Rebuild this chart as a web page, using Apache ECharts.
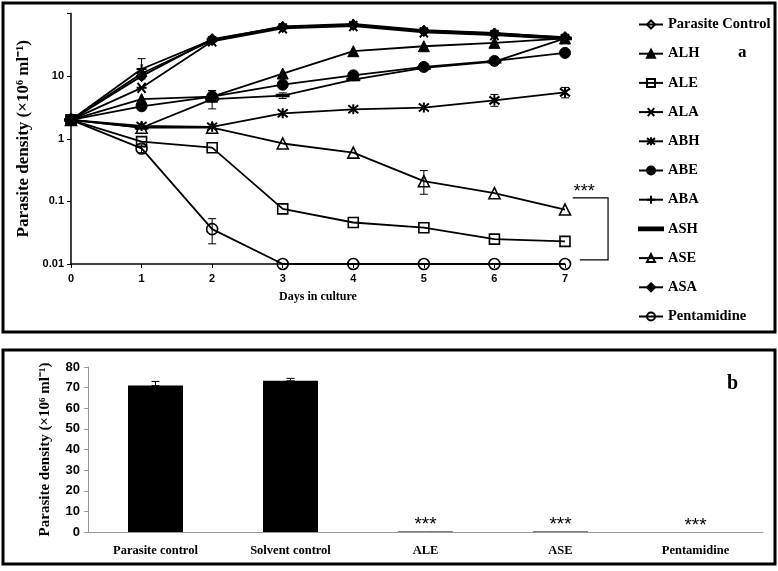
<!DOCTYPE html>
<html>
<head>
<meta charset="utf-8">
<script src="https://cdn.jsdelivr.net/npm/echarts@6/dist/echarts.min.js"></script>
<style>
  html, body { margin: 0; padding: 0; background: #fff; }
  #main { width: 778px; height: 571px; }
</style>
</head>
<body>
<div id="main"></div>
<script>
// ---- panel a : growth curves (log scale) ----
var days = [0, 1, 2, 3, 4, 5, 6, 7];
var parasiteControl = [2, 11, 37, 60, 65, 52, 46, 40];
var alh = [2, 4.3, 4.7, 11, 25, 30, 34, 40];
var ale = [2, 0.9, 0.72, 0.076, 0.046, 0.038, 0.025, 0.023];
var ala = [2, 6.5, 36, 58, 63, 50, 45, 39];
var abh = [2, 1.6, 1.55, 2.55, 2.95, 3.15, 4.1, 5.5];
var abe = [2, 3.3, 4.7, 7.3, 10.3, 14, 17.5, 23.5];
var aba = [2, 13, 38, 62, 68, 54, 49, 41];
var ash = [2, 1.5, 4.3, 4.9, 8.8, 13.5, 17, 40];
var ase = [2, 1.5, 1.5, 0.84, 0.6, 0.21, 0.135, 0.074];
var asa = [2, 10, 39, 61, 66, 53, 48, 42];
var pentamidine = [2, 0.7, 0.036, 0.01, 0.01, 0.01, 0.01, 0.01];
var yTicksA = [0.01, 0.1, 1, 10];

// error bars: [day, low, high]
var errA = [
  [1, 9, 19], [2, 3.0, 5.8], [3, 4.4, 5.4], [2, 4.2, 5.9],
  [1, 0.6, 0.8], [2, 0.021, 0.053],
  [5, 0.13, 0.31], [6, 3.3, 5.1], [7, 4.5, 6.6]
];

// ---- panel b : bar chart ----
var groupsB = ['Parasite control', 'Solvent control', 'ALE', 'ASE', 'Pentamidine'];
var densityB = [71, 73.3, 0.3, 0.3, 0];
var errB = [2, 1.2, 0, 0, 0];
var starsB = ['', '', '***', '***', '***'];

var serif = 'Liberation Serif';
var sans = 'Liberation Sans';

function pairs(arr) {
  return days.map(function (d, i) { return [d, arr[i]]; });
}

var crossPath = 'path://M5,0L5,10M0,5L10,5';
var starPath = 'path://M1,1L9,9M9,1L1,9M5,0L5,10';
var xPath = 'path://M1,1L9,9M9,1L1,9M0,5L10,5';

function lineSeries(name, arr, symbol, size, filled) {
  return {
    name: name,
    type: 'line',
    xAxisIndex: 0,
    yAxisIndex: 0,
    data: pairs(arr),
    symbol: symbol,
    symbolSize: size,
    showAllSymbol: true,
    animation: false,
    lineStyle: { color: '#000', width: 1.8 },
    itemStyle: {
      color: filled ? '#000' : 'rgba(255,255,255,0)',
      borderColor: '#000',
      borderWidth: filled ? 1 : 1.6
    }
  };
}

var names = ['Parasite Control', 'ALH', 'ALE', 'ALA', 'ABH', 'ABE', 'ABA', 'ASH', 'ASE', 'ASA', 'Pentamidine'];

var series = [
  lineSeries('Parasite Control', parasiteControl, 'diamond', 9, false),
  lineSeries('ALH', alh, 'triangle', 11, true),
  lineSeries('ALE', ale, 'rect', 10, false),
  lineSeries('ALA', ala, xPath, 10, true),
  lineSeries('ABH', abh, starPath, 10, true),
  lineSeries('ABE', abe, 'circle', 11, true),
  lineSeries('ABA', aba, crossPath, 10, true),
  lineSeries('ASH', ash, 'rect', [12, 3], true),
  lineSeries('ASE', ase, 'triangle', 11, false),
  lineSeries('ASA', asa, 'diamond', 11, true),
  lineSeries('Pentamidine', pentamidine, 'circle', 11, false)
];
series[3].itemStyle.borderWidth = 2;
series[4].itemStyle.borderWidth = 2;
series[6].itemStyle.borderWidth = 2;

var legendData = names.map(function (n) {
  return n === 'ASH' ? { name: n, icon: 'path://M0,0L24,0L24,2.6L0,2.6Z' } : n;
});

function errorBar(params, api) {
  var x = api.value(0);
  var lo = api.coord([x, api.value(1)]);
  var hi = api.coord([x, api.value(2)]);
  var w = 4;
  var st = { stroke: '#000', lineWidth: 1 };
  return {
    type: 'group',
    children: [
      { type: 'line', shape: { x1: lo[0], y1: lo[1], x2: hi[0], y2: hi[1] }, style: st },
      { type: 'line', shape: { x1: lo[0] - w, y1: lo[1], x2: lo[0] + w, y2: lo[1] }, style: st },
      { type: 'line', shape: { x1: hi[0] - w, y1: hi[1], x2: hi[0] + w, y2: hi[1] }, style: st }
    ]
  };
}

series.push({
  type: 'custom',
  xAxisIndex: 0,
  yAxisIndex: 0,
  data: errA,
  renderItem: errorBar,
  z: 1,
  animation: false
});

series.push({
  type: 'bar',
  xAxisIndex: 1,
  yAxisIndex: 1,
  data: densityB,
  barWidth: 55,
  itemStyle: { color: '#000' },
  label: {
    show: true,
    position: 'top',
    distance: -3,
    formatter: function (p) { return starsB[p.dataIndex]; },
    fontFamily: sans,
    fontSize: 19,
    color: '#000'
  },
  animation: false
});

series.push({
  type: 'custom',
  xAxisIndex: 1,
  yAxisIndex: 1,
  data: densityB.map(function (v, i) { return [i, v, v + errB[i]]; }).filter(function (d) { return d[2] > d[1]; }),
  renderItem: errorBar,
  z: 3,
  animation: false
});

var chart = echarts.init(document.getElementById('main'), null, { renderer: 'canvas' });

chart.setOption({
  backgroundColor: '#fff',
  animation: false,
  legend: {
    orient: 'vertical',
    left: 633,
    top: 12,
    itemGap: 14.2,
    itemWidth: 24,
    itemHeight: 10,
    data: legendData,
    textStyle: { fontFamily: serif, fontWeight: 'bold', fontSize: 14.5, color: '#000' }
  },
  grid: [
    { left: 71, right: 213, top: 13.5, bottom: 307 },
    { left: 88, right: 15, top: 367, bottom: 39 }
  ],
  xAxis: [
    {
      type: 'value', gridIndex: 0, min: 0, max: 7, interval: 1,
      name: 'Days in culture', nameLocation: 'middle', nameGap: 27,
      nameTextStyle: { fontFamily: serif, fontWeight: 'bold', fontSize: 12, color: '#000' },
      axisLine: { lineStyle: { color: '#000', width: 1.5 } },
      axisTick: { lineStyle: { color: '#000' }, length: 4 },
      axisLabel: { fontFamily: sans, fontWeight: 'bold', fontSize: 11, color: '#000', margin: 9 },
      splitLine: { show: false }
    },
    {
      type: 'category', gridIndex: 1, data: groupsB,
      axisLine: { lineStyle: { color: '#999', width: 1 } },
      axisTick: { lineStyle: { color: '#999' }, length: 4 },
      axisLabel: { fontFamily: serif, fontWeight: 'bold', fontSize: 12.5, color: '#000', margin: 12 }
    }
  ],
  yAxis: [
    {
      type: 'log', gridIndex: 0, logBase: 10, min: 0.01, max: 100,
      name: 'Parasite density (×10\u2076 ml\u207B\u00B9)', nameLocation: 'middle', nameGap: 28,
      nameTextStyle: { fontFamily: serif, fontWeight: 'bold', fontSize: 17, color: '#000' },
      axisLine: { show: true, lineStyle: { color: '#000', width: 1.5 } },
      axisTick: { show: true, lineStyle: { color: '#000' }, length: 4 },
      axisLabel: {
        fontFamily: sans, fontWeight: 'bold', fontSize: 11, color: '#000', margin: 7,
        formatter: function (v) { return yTicksA.indexOf(v) >= 0 ? String(v) : ''; }
      },
      splitLine: { show: false }
    },
    {
      type: 'value', gridIndex: 1, min: 0, max: 80, interval: 10,
      name: 'Parasite density (×10\u2076 ml\u207B\u00B9)', nameLocation: 'middle', nameGap: 35,
      nameTextStyle: { fontFamily: serif, fontWeight: 'bold', fontSize: 15, color: '#000' },
      axisLine: { show: true, lineStyle: { color: '#999', width: 1 } },
      axisTick: { show: true, lineStyle: { color: '#999' }, length: 4 },
      axisLabel: { fontFamily: sans, fontWeight: 'bold', fontSize: 13, color: '#000', margin: 8 },
      splitLine: { show: false }
    }
  ],
  series: series
});

// bracket + stars tied to panel a scales
var p1 = chart.convertToPixel({ gridIndex: 0 }, [7.11, 0.114]);
var p2 = chart.convertToPixel({ gridIndex: 0 }, [7.61, 0.114]);
var p3 = chart.convertToPixel({ gridIndex: 0 }, [7.61, 0.0116]);
var p4 = chart.convertToPixel({ gridIndex: 0 }, [7.21, 0.0116]);

chart.setOption({
  graphic: [
    { type: 'rect', shape: { x: 3, y: 3, width: 772, height: 329 }, style: { fill: 'none', stroke: '#000', lineWidth: 3 }, z: 100 },
    { type: 'rect', shape: { x: 3, y: 350, width: 772, height: 214 }, style: { fill: 'none', stroke: '#000', lineWidth: 3 }, z: 100 },
    { type: 'polyline', shape: { points: [p1, p2, p3, p4] }, style: { fill: 'none', stroke: '#000', lineWidth: 1.2 }, z: 100 },
    { type: 'text', x: p1[0] + 1, y: p1[1] - 15, style: { text: '***', font: '18px "Liberation Sans"', fill: '#000' }, z: 100 },
    { type: 'text', x: 738, y: 44, style: { text: 'a', font: 'bold 17px "Liberation Serif"', fill: '#000' }, z: 100 },
    { type: 'text', x: 727, y: 374, style: { text: 'b', font: 'bold 20px "Liberation Serif"', fill: '#000' }, z: 100 }
  ]
});
</script>
</body>
</html>
